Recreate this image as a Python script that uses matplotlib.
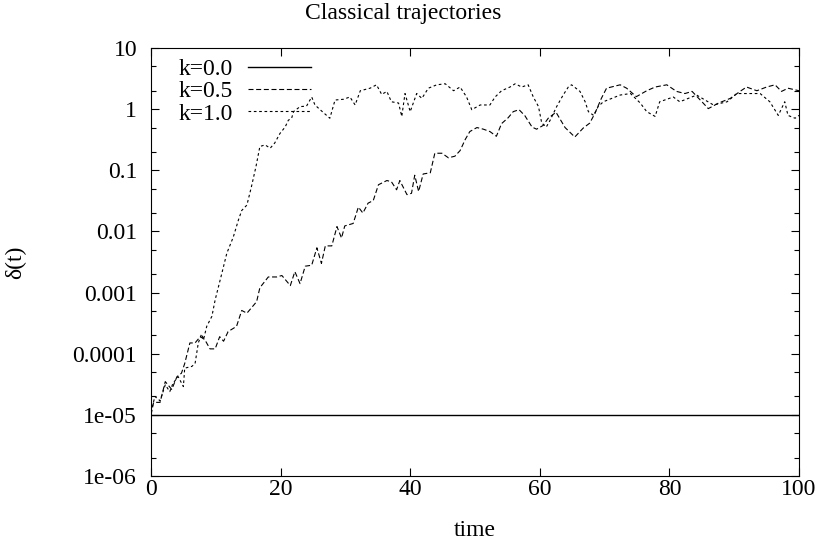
import matplotlib
matplotlib.use("Agg")
import matplotlib.pyplot as plt
from matplotlib.ticker import LogLocator, NullFormatter, FixedLocator, FixedFormatter

plt.rcParams['font.family'] = ['Liberation Serif', 'DejaVu Serif']

# k=0.0 trajectory stays at the initial separation
t_k00 = [0, 100]
d_k00 = [1e-5, 1e-5]

# k=0.5 trajectory
t_k05 = [0.0, 0.4, 1.4, 2.2, 3.2, 4.0, 4.7, 5.2, 6.0, 6.8, 7.6, 8.3, 9.1, 9.9,
         10.6, 11.2, 11.9, 13.2, 14.0, 14.8, 16.3, 16.8, 18.1, 19.4, 20.2, 21.5,
         22.2, 23.0, 23.8, 24.8, 25.6, 26.3, 26.9, 27.9, 28.7, 29.4, 29.9, 31.2,
         32.0, 32.7, 33.5, 34.3, 35.1, 36.4, 37.1, 37.9, 38.4, 39.5, 40.2, 40.7,
         41.3, 42.0, 43.1, 43.8, 44.9, 45.9, 46.9, 47.7, 48.5, 49.2, 50.3, 51.3,
         52.3, 53.3, 54.1, 55.1, 55.9, 56.8, 57.7, 58.8, 59.5, 60.5, 61.3, 62.5,
         63.9, 65.4, 66.7, 67.7, 68.5, 69.5, 70.3, 72.4, 73.4, 74.9, 76.5, 77.8,
         79.6, 81.1, 82.4, 83.5, 85.2, 86.0, 87.6, 89.4, 90.9, 91.9, 93.5, 95.0,
         96.3, 97.3, 98.3, 100.0]
d_k05 = [1.0e-5, 1.6e-5, 1.6e-5, 3.5e-5, 2.6e-5, 4.2e-5, 4.8e-5, 6.9e-5, 1.5e-4,
         1.5e-4, 1.9e-4, 1.7e-4, 1.2e-4, 1.2e-4, 1.9e-4, 1.6e-4, 2.3e-4, 2.8e-4,
         5.1e-4, 4.6e-4, 7.1e-4, 1.2e-3, 1.8e-3, 1.8e-3, 1.9e-3, 1.3e-3, 2.2e-3,
         1.4e-3, 2.7e-3, 2.8e-3, 5.4e-3, 3.0e-3, 5.8e-3, 5.8e-3, 1.2e-2, 7.8e-3,
         1.23e-2, 1.35e-2, 2.5e-2, 2.0e-2, 2.9e-2, 3.2e-2, 5.8e-2, 6.8e-2, 6.5e-2,
         4.8e-2, 6.8e-2, 4.0e-2, 4.2e-2, 8.3e-2, 4.5e-2, 8.7e-2, 9.1e-2, 0.19,
         0.19, 0.16, 0.17, 0.21, 0.32, 0.43, 0.50, 0.47, 0.43, 0.36, 0.58, 0.72,
         0.91, 0.98, 0.78, 0.51, 0.47, 0.54, 0.71, 0.89, 0.50, 0.35, 0.49, 0.59,
         0.85, 1.5, 2.2, 2.5, 2.2, 1.6, 2.0, 2.3, 2.5, 1.95, 1.8, 1.95, 1.26, 1.02,
         1.26, 1.5, 1.95, 2.3, 2.0, 2.3, 2.5, 1.95, 2.2, 2.0]

# k=1.0 trajectory
t_k10 = [0.0, 0.6, 1.4, 2.2, 2.9, 3.4, 4.2, 5.0, 5.2, 6.3, 6.8, 7.3, 7.8, 8.1,
         8.6, 9.4, 9.9, 10.9, 11.7, 12.7, 13.5, 14.0, 14.8, 15.5, 16.2, 16.8,
         17.6, 18.4, 19.1, 19.9, 20.7, 21.2, 21.7, 22.0, 23.0, 24.0, 24.8, 25.3,
         26.1, 27.1, 27.6, 28.4, 29.7, 30.7, 31.5, 32.3, 33.8, 34.8, 35.6, 36.4,
         37.1, 38.2, 38.7, 39.2, 40.0, 41.0, 41.8, 42.8, 44.1, 45.4, 46.7, 47.7,
         48.7, 49.5, 50.8, 52.3, 53.1, 54.1, 55.4, 56.2, 57.2, 58.2, 59.0, 59.8,
         60.3, 61.0, 61.6, 62.6, 63.6, 64.4, 64.9, 66.2, 67.0, 67.5, 68.3, 69.0,
         69.8, 72.4, 74.0, 75.5, 76.5, 77.8, 78.5, 80.6, 81.6, 84.2, 86.8, 88.9,
         90.4, 92.4, 94.0, 95.5, 96.8, 97.8, 98.3, 99.4, 100.0]
d_k10 = [1.1e-5, 2.0e-5, 1.7e-5, 3.1e-5, 2.4e-5, 3.3e-5, 4.2e-5, 2.9e-5, 5.8e-5,
         6.2e-5, 6.9e-5, 1.5e-4, 2.1e-4, 1.7e-4, 2.8e-4, 4.1e-4, 7.6e-4, 2.0e-3,
         4.4e-3, 8.1e-3, 1.55e-2, 2.2e-2, 2.7e-2, 5.4e-2, 0.115, 0.245, 0.26, 0.23,
         0.28, 0.40, 0.51, 0.66, 0.71, 0.91, 1.1, 1.12, 1.58, 1.17, 0.98, 0.79,
         0.71, 1.41, 1.45, 1.58, 1.17, 2.0, 2.2, 2.5, 1.74, 1.95, 1.32, 1.26, 0.76,
         1.8, 0.91, 1.8, 1.5, 2.2, 2.5, 2.6, 2.0, 2.3, 1.58, 0.98, 1.17, 1.17,
         1.58, 2.0, 2.3, 2.6, 2.3, 2.5, 1.58, 1.1, 0.59, 0.51, 0.66, 1.1, 1.7, 2.3,
         2.5, 1.95, 1.32, 0.91, 0.79, 1.1, 1.32, 1.7, 1.8, 1.26, 0.91, 0.76, 1.32,
         1.58, 1.32, 1.7, 1.17, 1.32, 1.8, 1.8, 1.8, 1.32, 0.79, 1.32, 0.79, 0.71,
         0.79]

y_ticks = [1e-6, 1e-5, 1e-4, 1e-3, 1e-2, 0.1, 1, 10]
y_labels = ['1e-06', '1e-05', '0.0001', '0.001', '0.01', '0.1', '1', '10']
x_ticks = [0, 20, 40, 60, 80, 100]

fig = plt.figure(figsize=(8.17, 5.42), dpi=100)
ax = fig.add_axes([151 / 817, 1 - 476 / 542, 648 / 817, 428 / 542])

ax.plot(t_k00, d_k00, color='black', lw=1.0, label='k=0.0')
ax.plot(t_k05, d_k05, color='black', lw=0.8, dashes=(4.5, 2.4), label='k=0.5')
ax.plot(t_k10, d_k10, color='black', lw=0.8, dashes=(2.4, 2.4), label='k=1.0')

ax.set_yscale('log')
ax.set_xlim(0, 100)
ax.set_ylim(1e-6, 10)

ax.yaxis.set_major_locator(FixedLocator(y_ticks))
ax.yaxis.set_major_formatter(FixedFormatter(y_labels))
ax.yaxis.set_minor_locator(LogLocator(base=10, subs=(2.0, 5.0)))
ax.yaxis.set_minor_formatter(NullFormatter())
ax.set_xticks(x_ticks)

fs = 17
ax.tick_params(which='both', direction='in', top=True, right=True, width=0.8,
               labelsize=fs, colors='black')
ax.tick_params(which='major', length=6)
ax.tick_params(which='minor', length=3.5)
ax.tick_params(axis='y', pad=10)
ax.tick_params(axis='x', pad=2.5)
for s in ax.spines.values():
    s.set_linewidth(0.8)

# gnuplot centres the title on the whole canvas
fig.text(403 / 817, 1 - 14 / 542, 'Classical trajectories', fontsize=fs,
         ha='center', va='center')
ax.set_xlabel('time', fontsize=fs, labelpad=14)
ax.set_ylabel('δ(t)', fontsize=fs, labelpad=33)

ax.legend(loc='upper left', bbox_to_anchor=(0.042, 0.975), frameon=False,
          markerfirst=False, fontsize=fs, handlelength=2.65, handletextpad=0.65,
          labelspacing=0.03, borderpad=0, borderaxespad=0)

fig.savefig('out.png', dpi=100)
